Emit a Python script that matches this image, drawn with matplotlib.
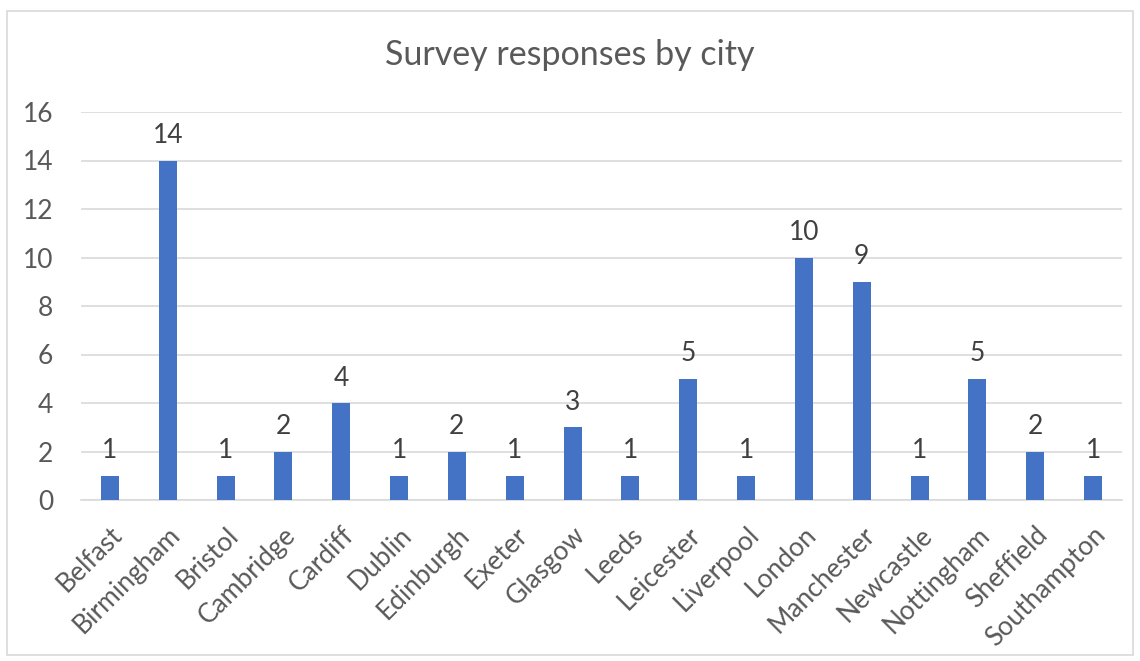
import matplotlib
matplotlib.use("Agg")
import matplotlib.pyplot as plt
from matplotlib.patches import Rectangle

cities = ["Belfast", "Birmingham", "Bristol", "Cambridge", "Cardiff", "Dublin",
          "Edinburgh", "Exeter", "Glasgow", "Leeds", "Leicester", "Liverpool",
          "London", "Manchester", "Newcastle", "Nottingham", "Sheffield", "Southampton"]
responses = [1, 14, 1, 2, 4, 1, 2, 1, 3, 1, 5, 1, 10, 9, 1, 5, 2, 1]
yticks = [0, 2, 4, 6, 8, 10, 12, 14, 16]

plt.rcParams['font.family'] = ['Lato', 'DejaVu Sans']
txt = '#595959'

fig = plt.figure(figsize=(11.4, 6.61), dpi=100)
fig.patches.append(Rectangle((7/1140, 1-655/661), 1126/1140, 644/661, transform=fig.transFigure,
                             fill=False, edgecolor='#d9d9d9', linewidth=1.2))
ax = fig.add_axes([81/1140, 1-500/661, 1041/1140, 388/661])
x = range(len(cities))
bars = ax.bar(x, responses, width=0.31, color='#4472c4', zorder=3)
for xi, v in zip(x, responses):
    ax.annotate(str(v), (xi, v), xytext=(0, 9), textcoords='offset points',
                ha='center', va='bottom', fontsize=19, color='#404040')
ax.set_xlim(-0.5, len(cities) - 0.5)
ax.set_ylim(0, 16)
ax.set_yticks(yticks)
ax.set_yticklabels([str(t) for t in yticks], fontsize=19, color=txt)
ax.set_xticks(list(x))
ax.set_xticklabels(cities, rotation=45, ha='right', rotation_mode='anchor', fontsize=19, color=txt)
ax.tick_params(axis='both', length=0)
ax.tick_params(axis='y', pad=20)
ax.tick_params(axis='x', pad=16)
ax.grid(axis='y', color='#d9d9d9', linewidth=1.2, zorder=0)
for s in ['top', 'right', 'left']:
    ax.spines[s].set_visible(False)
ax.spines['bottom'].set_color('#d9d9d9')
ax.spines['bottom'].set_linewidth(1.2)
fig.text(0.5, 1-55/661, "Survey responses by city", ha='center', va='center', fontsize=24.5, color=txt)
fig.savefig("out.png", dpi=100)
